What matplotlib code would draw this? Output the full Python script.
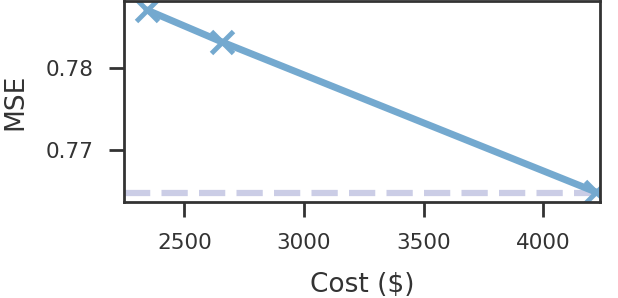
import matplotlib
matplotlib.use("Agg")
import matplotlib.pyplot as plt
import seaborn as sns

# cost vs error
cost = [2344, 2657, 4220]
mse = [0.7871, 0.7832, 0.76486]
baseline = 0.76475

sns.set_theme(style="ticks")
plt.rcParams['font.family'] = ['DejaVu Sans']

fig = plt.figure(figsize=(6.18, 2.98), dpi=100)
ax = fig.add_axes([0.2006, 0.322, 0.7704, 0.6746])

ax.axhline(baseline, color="#cbcde6", lw=4.5, ls=(0, (4.2, 1.8)), zorder=1)
ax.plot(cost, mse, color="#74a9cf", lw=5, marker="x", markersize=16, mew=3.5, zorder=2)

ax.set_xlim(2248, 4237)
ax.set_ylim(0.76364, 0.7882)
ax.set_xticks([2500, 3000, 3500, 4000])
ax.set_yticks([0.77, 0.78])
ax.set_xlabel("Cost ($)", fontsize=19, color="#333333", labelpad=14)
ax.set_ylabel("MSE", fontsize=19, color="#333333", labelpad=12)
ax.tick_params(labelsize=15.5, length=11, width=2, colors="#333333", pad=11)
for s in ax.spines.values():
    s.set_linewidth(2)
    s.set_color("#333333")

fig.savefig("out.png", dpi=100)
